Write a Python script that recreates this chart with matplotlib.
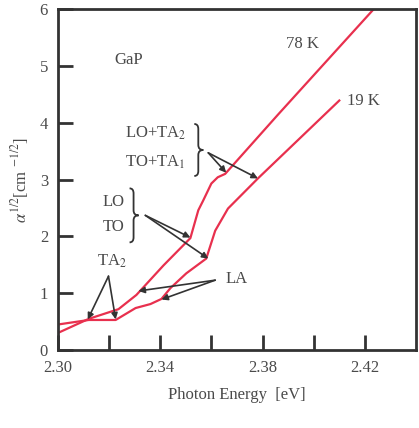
import numpy as np
import matplotlib
matplotlib.use("Agg")
import matplotlib.pyplot as plt
from matplotlib.path import Path
from matplotlib.patches import PathPatch
from matplotlib.transforms import offset_copy, ScaledTranslation, Affine2D

plt.rcParams['font.family'] = ['Liberation Serif', 'DejaVu Serif']
plt.rcParams['mathtext.fontset'] = 'stix'

# photon energy [eV] and sqrt(alpha) [cm^-1/2]
e_78K = [2.2985, 2.3121, 2.3237, 2.3307, 2.3413, 2.3518, 2.3549, 2.3568,
         2.3600, 2.3625, 2.3654, 2.3860, 2.4235]
a_78K = [0.27, 0.55, 0.72, 0.97, 1.49, 1.97, 2.46, 2.63,
         2.93, 3.04, 3.10, 4.14, 6.00]

e_19K = [2.2985, 2.3121, 2.3226, 2.3304, 2.3362, 2.3405, 2.3440, 2.3502,
         2.3580, 2.3615, 2.3665, 2.3782, 2.4100]
a_19K = [0.44, 0.53, 0.53, 0.74, 0.81, 0.90, 1.09, 1.35,
         1.61, 2.10, 2.49, 3.02, 4.39]

xticks = [2.30, 2.32, 2.34, 2.36, 2.38, 2.40, 2.42]
xticklabels = ['2.30', '', '2.34', '', '2.38', '', '2.42']
yticks = [0, 1, 2, 3, 4, 5, 6]

red = '#e8304e'
txt = '#4a4a4a'
dark = '#333333'

fig = plt.figure(figsize=(4.19, 4.28), dpi=100)
ax = fig.add_axes([0.138, 0.182, 0.855, 0.797])

ax.plot(e_78K, a_78K, color=red, lw=1.6)
ax.plot(e_19K, a_19K, color=red, lw=1.6)

ax.set_xlim(2.30, 2.44)
ax.set_ylim(0, 6)
ax.set_xticks(xticks)
ax.set_xticklabels(xticklabels)
ax.set_yticks(yticks)
ax.tick_params(direction='in', length=11, width=2, colors=dark,
               labelsize=12, labelcolor=txt, pad=7)
for s in ax.spines.values():
    s.set_linewidth(2)
    s.set_color(dark)

ax.set_xlabel('Photon Energy  [eV]', fontsize=12, color=txt, labelpad=8)
ax.set_ylabel(r'$\alpha^{1/2}$[cm $^{-1/2}$]', fontsize=12, color=txt, labelpad=6)

kw = dict(fontsize=12, color=txt, ha='center', va='center')
ax.text(2.3276, 5.1, 'GaP', **kw)
ax.text(2.3957, 5.39, '78 K', **kw)
ax.text(2.4195, 4.39, '19 K', **kw)
ax.text(2.3381, 3.81, r'LO+TA$_2$', **kw)
ax.text(2.3381, 3.30, r'TO+TA$_1$', **kw)
ax.text(2.3218, 2.60, 'LO', **kw)
ax.text(2.3218, 2.16, 'TO', **kw)
ax.text(2.3210, 1.56, r'TA$_2$', **kw)
ax.text(2.3700, 1.25, 'LA', **kw)


def brace(x, y, h):
    # thin curly brace, shape in pixels around (x, y) in data coords
    verts = [(-4, h), (0, h), (0, h - 5),
             (0, 5),
             (0, 0), (5, 0),
             (0, 0), (0, -5),
             (0, -h + 5),
             (0, -h), (-4, -h)]
    codes = [Path.MOVETO, Path.CURVE3, Path.CURVE3,
             Path.LINETO,
             Path.CURVE3, Path.CURVE3,
             Path.CURVE3, Path.CURVE3,
             Path.LINETO,
             Path.CURVE3, Path.CURVE3]
    tr = Affine2D().scale(fig.dpi / 72.0 * 0.72) + \
        ScaledTranslation(x, y, ax.transData)
    ax.add_patch(PathPatch(Path(verts, codes), fill=False, lw=1.3,
                           ec=dark, transform=tr, clip_on=False))


brace(2.3549, 3.52, 26)
brace(2.3296, 2.37, 27)

arr = dict(arrowstyle='-|>', color=dark, lw=1.2, mutation_scale=9,
           shrinkA=0, shrinkB=0)
arrows = [
    ((2.3198, 1.30), [(2.3117, 0.54), (2.3226, 0.54)]),
    ((2.3342, 2.37), [(2.3518, 1.98), (2.3588, 1.61)]),
    ((2.3588, 3.47), [(2.3658, 3.12), (2.3782, 3.02)]),
    ((2.3615, 1.23), [(2.3315, 1.04), (2.3405, 0.89)]),
]
for start, tips in arrows:
    for tip in tips:
        ax.annotate('', xy=tip, xytext=start, arrowprops=arr)

fig.savefig('out.png', dpi=100)
